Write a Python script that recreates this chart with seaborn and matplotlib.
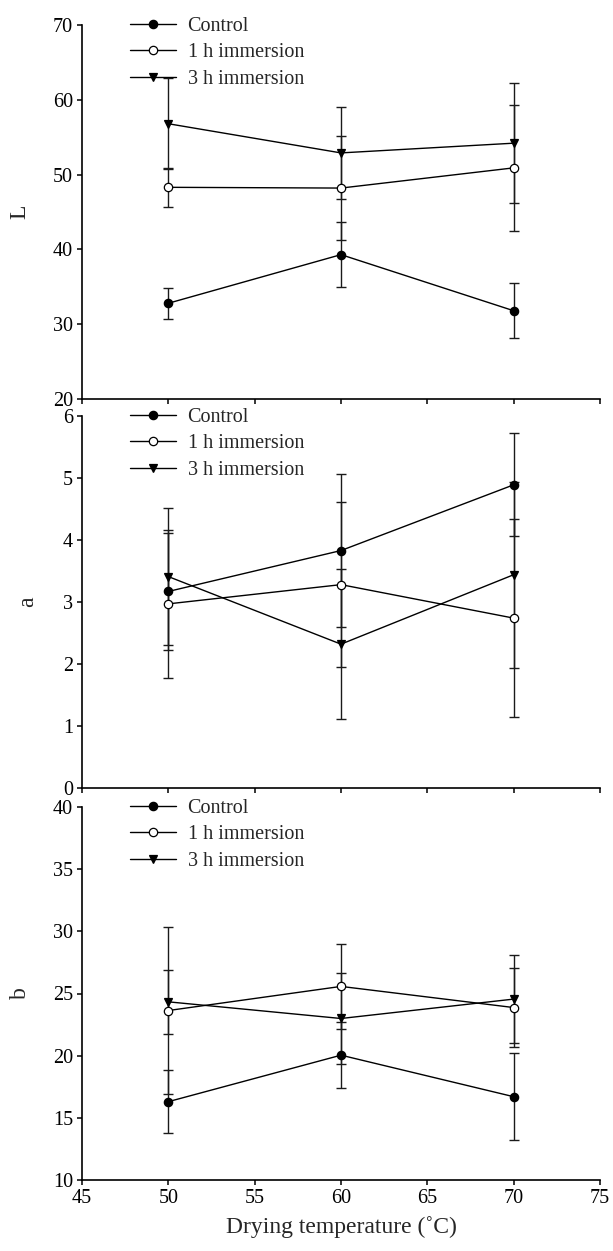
import matplotlib
matplotlib.use("Agg")
import matplotlib.pyplot as plt
import seaborn as sns
import pandas as pd

temps = [50, 60, 70]
series_names = ["Control", "1 h immersion", "3 h immersion"]

L_control = [32.8, 39.3, 31.8]
L_control_err = [2.1, 4.3, 3.7]
L_1h = [48.3, 48.2, 50.9]
L_1h_err = [2.6, 6.9, 8.4]
L_3h = [56.8, 52.9, 54.2]
L_3h_err = [6.1, 6.1, 8.0]

a_control = [3.17, 3.83, 4.89]
a_control_err = [0.95, 1.23, 0.83]
a_1h = [2.97, 3.28, 2.74]
a_1h_err = [1.19, 1.33, 1.60]
a_3h = [3.41, 2.32, 3.44]
a_3h_err = [1.10, 1.21, 1.50]

b_control = [16.3, 20.04, 16.7]
b_control_err = [2.52, 2.65, 3.5]
b_1h = [23.63, 25.57, 23.87]
b_1h_err = [6.75, 3.45, 3.15]
b_3h = [24.33, 22.99, 24.55]
b_3h_err = [2.58, 3.68, 3.55]

x_ticks = [45, 50, 55, 60, 65, 70, 75]
L_ticks = [20, 30, 40, 50, 60, 70]
a_ticks = [0, 1, 2, 3, 4, 5, 6]
b_ticks = [10, 15, 20, 25, 30, 35, 40]

sns.set_style("ticks")
plt.rcParams["font.family"] = ["Liberation Serif", "DejaVu Serif"]

W, H = 613, 1251
fig = plt.figure(figsize=(W / 100, H / 100), dpi=100)

left_px, right_px = 82, 600
panels = [
    (25, 399, "L", L_ticks, [(L_control, L_control_err), (L_1h, L_1h_err), (L_3h, L_3h_err)]),
    (416, 788, "a", a_ticks, [(a_control, a_control_err), (a_1h, a_1h_err), (a_3h, a_3h_err)]),
    (807, 1180, "b", b_ticks, [(b_control, b_control_err), (b_1h, b_1h_err), (b_3h, b_3h_err)]),
]
styles = [
    dict(marker="o", markerfacecolor="black"),
    dict(marker="o", markerfacecolor="white"),
    dict(marker="v", markerfacecolor="black"),
]

for i, (top, bot, ylab, yticks, data) in enumerate(panels):
    ax = fig.add_axes([left_px / W, 1 - bot / H, (right_px - left_px) / W, (bot - top) / H])
    for name, (vals, errs), st in zip(series_names, data, styles):
        ax.errorbar(temps, vals, yerr=errs, fmt="none", ecolor="#1a1a1a",
                    elinewidth=1.0, capsize=3.8, capthick=1.0, zorder=2)
        df = pd.DataFrame({"temp": temps, "value": vals})
        sns.lineplot(data=df, x="temp", y="value", ax=ax, color="black", lw=1.0,
                     marker=st["marker"], markerfacecolor=st["markerfacecolor"],
                     markeredgecolor="black", markeredgewidth=0.9, markersize=6,
                     label=name, zorder=3)
    ax.set_xlim(45, 75)
    ax.set_ylim(yticks[0], yticks[-1])
    ax.set_xticks(x_ticks)
    ax.set_yticks(yticks)
    sns.despine(ax=ax)
    ax.tick_params(direction="out", length=3.5, width=1.1, labelsize=14.5,
                   colors="black", pad=3)
    for s in ["left", "bottom"]:
        ax.spines[s].set_linewidth(1.2)
        ax.spines[s].set_color("black")
    if i < 2:
        ax.set_xticklabels([])
        ax.set_xlabel("")
    else:
        ax.set_xlabel("Drying temperature (˚C)", fontsize=17, labelpad=6)
    ax.set_ylabel(ylab, fontsize=17, labelpad={"L": 16, "a": 18, "b": 16}[ylab])
    ax.legend(loc="upper left", bbox_to_anchor=(0.093, 1.022), frameon=False,
              fontsize=14.5, handlelength=2.3, handletextpad=0.55,
              labelspacing=0.36, borderpad=0, borderaxespad=0)

fig.savefig("out.png", dpi=100, facecolor="white")
